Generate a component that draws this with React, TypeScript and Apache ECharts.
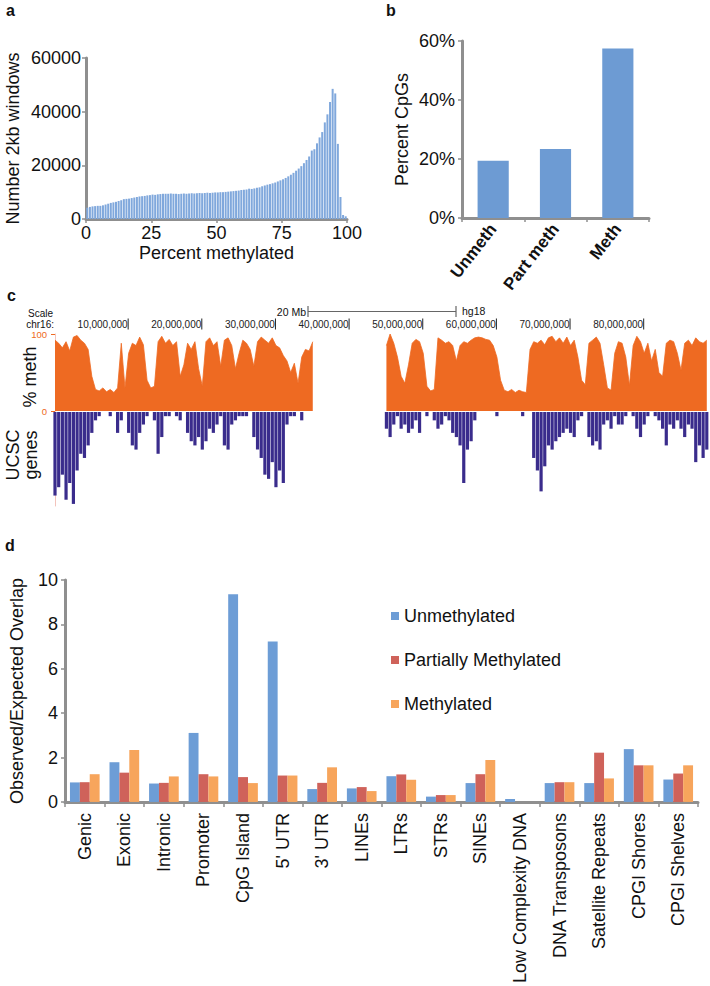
import React, { useEffect, useRef } from 'react';
import * as echarts from 'echarts';

const FONT = '"Liberation Sans", Arial, Helvetica, sans-serif';
const TEXT = '#111111';
const AXIS_GREY = '#8f8f8f';
const ORANGE = '#ee6a22';

// ---------- Panel a: histogram of 2kb windows by percent methylated (1% bins)
const histValues = [
  4200, 4500, 4700, 4800, 4900, 4900, 5100, 5400, 5700, 6000,
  6200, 6400, 6700, 7000, 7400, 7500, 7600, 7800, 8000, 8200,
  8400, 8500, 8600, 8800, 8900, 9100, 9000, 9200, 9300, 9400,
  9400, 9400, 9500, 9400, 9400, 9300, 9400, 9500, 9400, 9500,
  9600, 9500, 9600, 9700, 9600, 9700, 9800, 9700, 9800, 9900,
  9900, 10000, 10000, 10100, 10200, 10300, 10400, 10500, 10600, 10800,
  10900, 11000, 11300, 11200, 11400, 11600, 11800, 12200, 12500, 12800,
  13000, 13300, 13600, 14000, 14400, 14800, 15300, 15900, 16500, 17200,
  18000, 18800, 19700, 20800, 22000, 23300, 25500, 26000, 28200, 30400,
  32400, 36000, 39000, 43600, 48500, 46800, 28000, 8200, 1500, 1000,
];

// ---------- Panel b
const bCategories = ['Unmeth', 'Part meth', 'Meth'];
const bValues = [19.4, 23.4, 57.5];

// ---------- Panel c: chr16 browser tracks (0.5 Mb bins)
const chrBinMb = 0.5;
const chrLengthMb = 88.8;
const rulerTicks = [10, 20, 30, 40, 50, 60, 70, 80];
const methValues: (number | null)[] = [
  92, 88, 82, 90, 78, 96, 98, 92, 88, 80,
  45, 28, 26, 30, 25, 28, 24, 30, 88, 30,
  75, 88, 85, 96, 86, 40, 30, 32, 90, 97,
  88, 93, 85, 90, 45, 60, 88, 80, 90, 55,
  32, 90, 95, 85, 90, 58, 92, 95, 85, 55,
  75, 92, 88, 80, 58, 90, 96, 92, 88, 95,
  85, 82, 72, 65, 50, 62, 36, 70, 80, 78,
  90,
  null, null, null, null, null, null, null, null, null, null,
  null, null, null, null, null, null, null, null, null,
  85, 100, 88, 70, 45, 36, 60, 88, 93, 90,
  75, 32, 26, 28, 95, 92, 88, 90, 85, 65,
  85, 90, 88, 92, 95, 96, 95, 93, 92, 85,
  70, 40, 27, 25, 28, 24, 27, 25, 24, 80,
  90, 88, 92, 86, 95, 97, 90, 95, 88, 96,
  85, 92, 70, 40, 34, 88, 92, 96, 88, 60,
  30, 27, 75, 90, 88, 70, 33, 85, 97, 90,
  75, 88, 65, 80, 50, 45, 88, 92, 90, 75,
  53, 88, 92, 85, 95, 90, 88, 92,
];
const geneDepth = [
  20, 18, 15, 21, 17, 22, 14, 10, 11, 8,
  5, 2, 1, 0, 0, 1, 0, 5, 2, 0,
  5, 8, 9, 5, 3, 1, 0, 2, 10, 6,
  1, 1, 0, 1, 2, 0, 5, 7, 8, 6,
  9, 7, 4, 5, 3, 1, 8, 9, 3, 2,
  1, 1, 1, 0, 6, 9, 11, 15, 16, 12,
  18, 14, 17, 3, 1, 1, 0, 2, 0, 0,
  0,
  0, 0, 0, 0, 0, 0, 0, 0, 0, 0,
  0, 0, 0, 0, 0, 0, 0, 0, 0,
  4, 6, 3, 1, 4, 3, 5, 4, 2, 5,
  0, 1, 0, 2, 4, 3, 1, 2, 5, 6,
  8, 17, 9, 7, 2, 0, 0, 0, 0, 0,
  1, 0, 0, 0, 0, 0, 0, 1, 0, 0,
  11, 14, 19, 13, 8, 9, 7, 6, 5, 4,
  5, 6, 2, 1, 0, 6, 8, 7, 9, 3,
  2, 4, 1, 3, 3, 1, 0, 1, 4, 6,
  3, 1, 0, 1, 2, 4, 8, 3, 4, 2,
  4, 6, 3, 4, 12, 8, 11, 9,
];

// ---------- Panel d
const dCategories = [
  'Genic', 'Exonic', 'Intronic', 'Promoter', 'CpG Island', "5' UTR", "3' UTR", 'LINEs',
  'LTRs', 'STRs', 'SINEs', 'Low Complexity DNA', 'DNA Transposons', 'Satellite Repeats',
  'CPGI Shores', 'CPGI Shelves',
];
const unmethylated = [0.88, 1.79, 0.83, 3.11, 9.36, 7.23, 0.58, 0.61, 1.16, 0.24, 0.85, 0.13, 0.85, 0.85, 2.38, 1.01];
const partiallyMethylated = [0.89, 1.32, 0.86, 1.25, 1.12, 1.19, 0.86, 0.67, 1.24, 0.31, 1.25, 0, 0.89, 2.22, 1.65, 1.28];
const methylated = [1.25, 2.34, 1.15, 1.15, 0.85, 1.19, 1.56, 0.49, 1.0, 0.31, 1.89, 0, 0.89, 1.06, 1.65, 1.65];

function fmtPos(v: number): string {
  if (!v) return '';
  return String(Math.round(v * 1000000)).replace(/\B(?=(\d{3})+(?!\d))/g, ',') + '{t|}';
}

const greyAxisLine = { show: true, lineStyle: { color: AXIS_GREY, width: 3 } };
const greyTick = { show: true, length: 4, lineStyle: { color: AXIS_GREY, width: 1.5 } };

function txt(text: string, x: number, y: number, size: number, extra: any = {}) {
  return {
    type: 'text',
    x,
    y,
    rotation: extra.rotation || 0,
    silent: true,
    style: {
      text,
      fontSize: size,
      fontFamily: FONT,
      fontWeight: extra.weight || 'normal',
      fill: extra.color || TEXT,
      align: extra.align || 'left',
      verticalAlign: 'middle',
    },
  };
}

export default function App() {
  const ref = useRef<HTMLDivElement>(null);

  useEffect(() => {
    document.body.style.margin = '0';
    if (!ref.current) return;
    const chart = echarts.init(ref.current, null, { renderer: 'svg' });

    const option: any = {
      animation: false,
      backgroundColor: '#ffffff',
      textStyle: { fontFamily: FONT, color: TEXT },
      grid: [
        { left: 86, top: 58, width: 261, height: 161 },
        { left: 462, top: 41, width: 187, height: 177 },
        { left: 55, top: 334, width: 654, height: 77 },
        { left: 55, top: 412, width: 654, height: 94 },
        { left: 55, top: 580, width: 643, height: 224 },
      ],
      legend: {
        data: ['Unmethylated', 'Partially Methylated', 'Methylated'],
        orient: 'vertical',
        left: 391,
        top: 607,
        padding: 0,
        itemWidth: 8,
        itemHeight: 8,
        itemGap: 26,
        icon: 'rect',
        selectedMode: false,
        textStyle: { fontSize: 18, color: TEXT, fontFamily: FONT },
      },
      xAxis: [
        {
          gridIndex: 0, type: 'value', min: 0, max: 100, interval: 25,
          axisLine: greyAxisLine, axisTick: greyTick, splitLine: { show: false },
          axisLabel: { fontSize: 18, color: TEXT, margin: 5 },
          name: 'Percent methylated', nameLocation: 'middle', nameGap: 25, nameMoveOverlap: false,
          nameTextStyle: { fontSize: 18, color: TEXT },
        },
        {
          gridIndex: 1, type: 'category', data: bCategories,
          axisLine: greyAxisLine, axisTick: { ...greyTick, alignWithLabel: false },
          axisLabel: { rotate: 52, fontSize: 17, fontWeight: 'bold', color: TEXT, margin: 8, interval: 0 },
        },
        {
          gridIndex: 2, type: 'value', min: 0, max: chrLengthMb, interval: 10, position: 'top', offset: 5,
          axisLine: { show: false }, splitLine: { show: false }, axisTick: { show: false },
          axisLabel: {
            customValues: rulerTicks, formatter: fmtPos, align: 'right', verticalAlign: 'middle',
            margin: 5, fontSize: 10, color: '#222',
            rich: { t: { width: 1, height: 11, backgroundColor: '#222', padding: 0 } },
          },
        },
        { gridIndex: 3, type: 'value', min: 0, max: chrLengthMb, show: false },
        {
          gridIndex: 4, type: 'category', data: dCategories,
          axisLine: greyAxisLine, axisTick: { show: true, length: 5, lineStyle: { color: AXIS_GREY, width: 1.5 } },
          axisLabel: { rotate: 90, fontSize: 18, color: TEXT, margin: 11, interval: 0 },
        },
      ],
      yAxis: [
        {
          gridIndex: 0, type: 'value', min: 0, max: 60000, interval: 20000,
          axisLine: greyAxisLine, axisTick: greyTick, splitLine: { show: false },
          axisLabel: { fontSize: 18, color: TEXT, margin: 5, formatter: (v: number) => String(v) },
          name: 'Number 2kb windows', nameLocation: 'middle', nameGap: 64, nameMoveOverlap: false,
          nameTextStyle: { fontSize: 18, color: TEXT },
        },
        {
          gridIndex: 1, type: 'value', min: 0, max: 60, interval: 20,
          axisLine: greyAxisLine, axisTick: greyTick, splitLine: { show: false },
          axisLabel: { fontSize: 18, color: TEXT, margin: 7, formatter: '{value}%' },
          name: 'Percent CpGs', nameLocation: 'middle', nameGap: 51, nameMoveOverlap: false,
          nameTextStyle: { fontSize: 18, color: TEXT },
        },
        {
          gridIndex: 2, type: 'value', min: 0, max: 100, interval: 100, offset: 2,
          axisLine: { show: true, lineStyle: { color: '#f3c3bb', width: 1 } },
          axisTick: { show: true, length: 4, lineStyle: { color: ORANGE, width: 1 } },
          axisLabel: { fontSize: 9.5, color: ORANGE, margin: 6 },
          splitLine: { show: false },
        },
        {
          gridIndex: 3, type: 'value', min: -22.5, max: 0, offset: 2,
          axisLine: { show: true, lineStyle: { color: '#f3c3bb', width: 1 } },
          axisTick: { show: false }, axisLabel: { show: false }, splitLine: { show: false },
        },
        {
          gridIndex: 4, type: 'value', min: 0, max: 10, interval: 2,
          axisLine: greyAxisLine, axisTick: greyTick, splitLine: { show: false },
          axisLabel: { fontSize: 18, color: TEXT, margin: 7 },
          name: 'Observed/Expected Overlap', nameLocation: 'middle', nameGap: 39, nameMoveOverlap: false,
          nameTextStyle: { fontSize: 18, color: TEXT },
        },
      ],
      series: [
        {
          type: 'bar', xAxisIndex: 0, yAxisIndex: 0, barWidth: 2,
          itemStyle: { color: '#80a8dc' },
          data: histValues.map((v, i) => [i + 0.5, v]),
        },
        {
          type: 'bar', xAxisIndex: 1, yAxisIndex: 1, barWidth: '50%',
          itemStyle: { color: '#6d9bd3' },
          data: bValues,
        },
        {
          type: 'line', xAxisIndex: 2, yAxisIndex: 2, symbol: 'none', connectNulls: false,
          lineStyle: { color: ORANGE, width: 0.8 },
          areaStyle: { color: ORANGE, opacity: 1 },
          data: methValues.map((v, i) => [i * chrBinMb, v === null ? '-' : v]),
        },
        {
          type: 'bar', xAxisIndex: 3, yAxisIndex: 3, barWidth: 3.2,
          itemStyle: { color: '#3a2c8c' },
          data: geneDepth.map((v, i) => [i * chrBinMb, -v]),
        },
        {
          name: 'Unmethylated', type: 'bar', xAxisIndex: 4, yAxisIndex: 4,
          barGap: '0%', barCategoryGap: '25%', itemStyle: { color: '#6d9dd6' }, data: unmethylated,
        },
        {
          name: 'Partially Methylated', type: 'bar', xAxisIndex: 4, yAxisIndex: 4,
          barGap: '0%', barCategoryGap: '25%', itemStyle: { color: '#cf625a' }, data: partiallyMethylated,
        },
        {
          name: 'Methylated', type: 'bar', xAxisIndex: 4, yAxisIndex: 4,
          barGap: '0%', barCategoryGap: '25%', itemStyle: { color: '#f7a55c' }, data: methylated,
        },
      ],
      graphic: [
        txt('a', 6, 10, 16, { weight: 'bold' }),
        txt('b', 386, 10, 16, { weight: 'bold' }),
        txt('c', 7, 295, 16, { weight: 'bold' }),
        txt('d', 5, 545, 16, { weight: 'bold' }),
        txt('Scale', 53, 313, 10, { align: 'right' }),
        txt('chr16:', 54, 324, 10, { align: 'right' }),
        txt('20 Mb', 306, 312, 10.5, { align: 'right' }),
        txt('hg18', 462, 311, 10.5),
        {
          type: 'line', silent: true,
          shape: { x1: 308, y1: 311.5, x2: 456, y2: 311.5 },
          style: { stroke: '#666', lineWidth: 1.2 },
        },
        {
          type: 'line', silent: true,
          shape: { x1: 308, y1: 306, x2: 308, y2: 317 },
          style: { stroke: '#666', lineWidth: 1.2 },
        },
        {
          type: 'line', silent: true,
          shape: { x1: 456, y1: 306, x2: 456, y2: 317 },
          style: { stroke: '#666', lineWidth: 1.2 },
        },
        txt('% meth', 30, 377, 18, { rotation: Math.PI / 2, align: 'center' }),
        txt('UCSC', 13, 455, 18, { rotation: Math.PI / 2, align: 'center' }),
        txt('genes', 31, 455, 18, { rotation: Math.PI / 2, align: 'center' }),
      ],
    };

    chart.setOption(option);
    return () => {
      chart.dispose();
    };
  }, []);

  return <div ref={ref} style={{ width: 710, height: 986 }} />;
}
